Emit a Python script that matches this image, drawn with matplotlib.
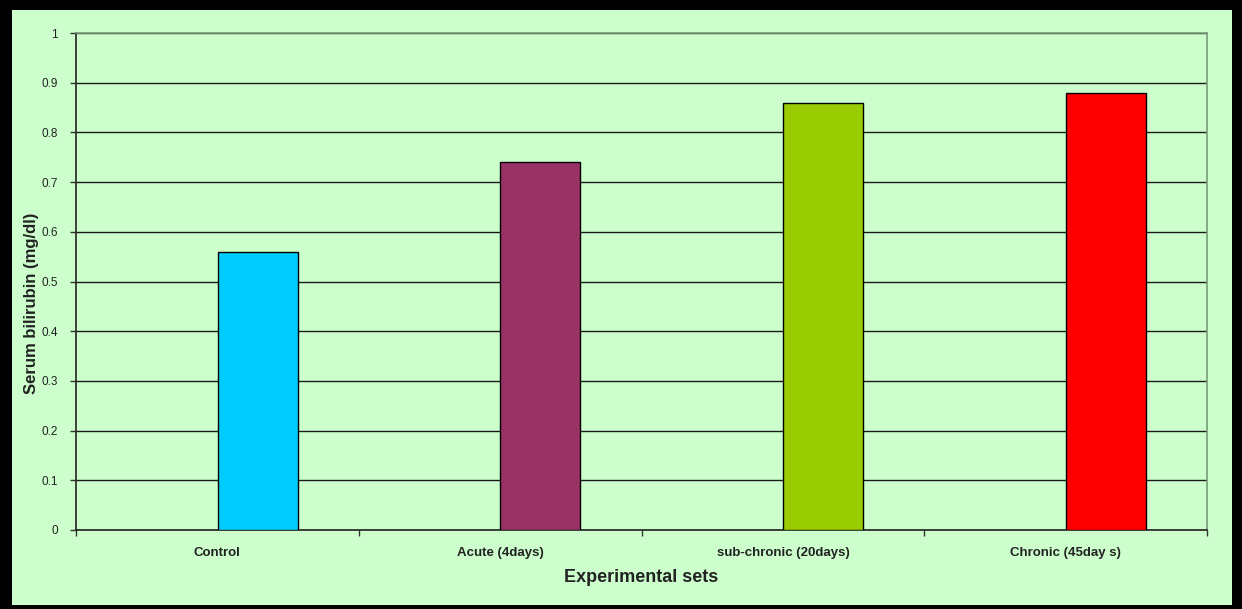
import matplotlib

matplotlib.use("Agg")
import matplotlib.pyplot as plt
from matplotlib.patches import Rectangle

BG_COLOR = "#ccffcc"
FRAME_COLOR = "#000000"
TEXT_COLOR = "#222222"

categories = ["Control", "Acute (4days)", "sub-chronic (20days)", "Chronic (45day s)"]
values = [0.56, 0.74, 0.86, 0.88]
bar_colors = ["#00ccff", "#993366", "#99cc00", "#ff0000"]
y_ticks = [0, 0.1, 0.2, 0.3, 0.4, 0.5, 0.6, 0.7, 0.8, 0.9, 1]
y_tick_labels = ["0", "0.1", "0.2", "0.3", "0.4", "0.5", "0.6", "0.7", "0.8", "0.9", "1"]

plt.rcParams["font.family"] = ["Liberation Sans", "DejaVu Sans"]

W, H = 1242, 609
fig = plt.figure(figsize=(W / 100, H / 100), dpi=100, facecolor=BG_COLOR)

# thick black frame round the whole chart
for x0, y0, w, h in [(0, 0, 12, H), (1232, 0, 10, H), (0, H - 10, W, 10), (0, 0, W, 4)]:
    fig.patches.append(Rectangle((x0 / W, y0 / H), w / W, h / H, transform=fig.transFigure,
                                 facecolor=FRAME_COLOR, edgecolor="none", zorder=10))

ax = fig.add_axes([76 / W, 79 / H, 1131 / W, 497 / H])
ax.set_facecolor(BG_COLOR)

xpos = [i + 0.5 for i in range(len(categories))]
ax.bar([x + 0.142 for x in xpos], values, width=0.283, color=bar_colors,
       edgecolor="black", linewidth=1.0, zorder=3)

ax.set_xlim(0, len(categories))
ax.set_ylim(0, 1)
ax.set_yticks(y_ticks)
ax.set_yticklabels(y_tick_labels, fontsize=8.5, color=TEXT_COLOR)
ax.yaxis.grid(True, color="#1a1a1a", linewidth=1.0, zorder=1)
ax.set_axisbelow(True)

ax.set_xticks(xpos)
ax.set_xticklabels(categories, fontsize=9.5, fontweight="bold", color=TEXT_COLOR)
ax.set_xticks(range(len(categories) + 1), minor=True)
ax.tick_params(axis="x", which="major", length=0, pad=12)
ax.tick_params(axis="x", which="minor", length=4, width=1, color="#333333", direction="out")
ax.tick_params(axis="y", length=4, width=1, color="#333333", direction="out", pad=9)

for side in ("left", "bottom"):
    ax.spines[side].set_color(TEXT_COLOR)
    ax.spines[side].set_linewidth(1.2)
for side in ("top", "right"):
    ax.spines[side].set_color("#7a9a7a")
    ax.spines[side].set_linewidth(1.2)

ax.set_xlabel("Experimental sets", fontsize=13, fontweight="bold", color=TEXT_COLOR)
ax.xaxis.set_label_coords(0.5, -0.095)
ax.xaxis.label.set_va("center")
ax.set_ylabel("Serum bilirubin (mg/dl)", fontsize=12, fontweight="bold", color=TEXT_COLOR)
ax.yaxis.set_label_coords((39 - 76) / 1131, (530 - 303) / 497)

fig.savefig("out.png", dpi=100, facecolor=BG_COLOR)
